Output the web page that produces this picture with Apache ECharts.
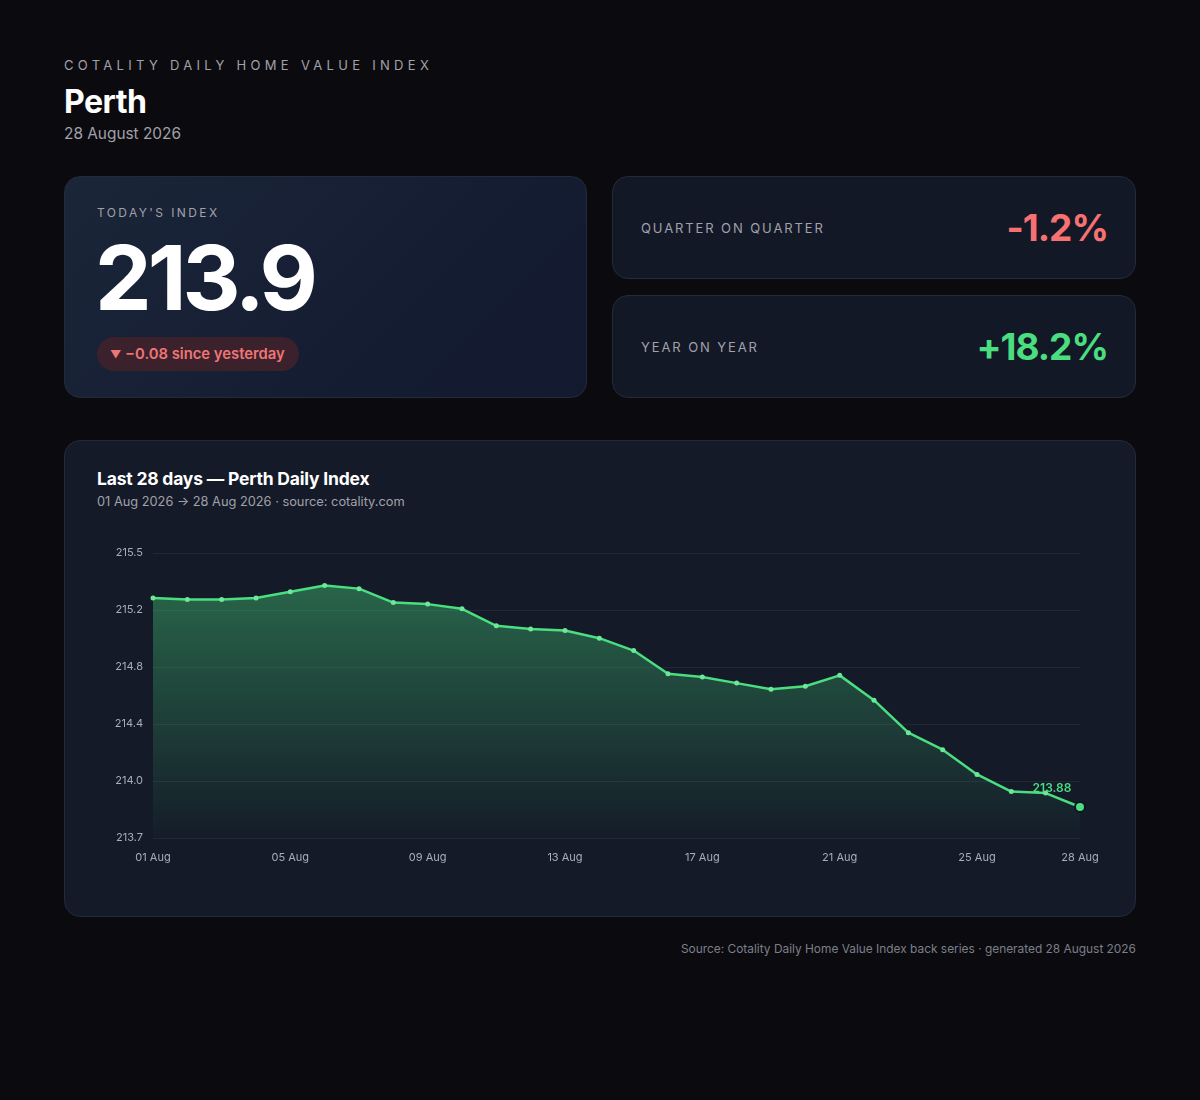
<!DOCTYPE html>
<html>

	<head>
		<meta charset="UTF-8">
		<title>Perth Daily Home Value Index</title>
		<script src="https://cdn.jsdelivr.net/npm/echarts@6.0.0/dist/echarts.min.js"></script>
		<style>
			html, body {
				margin: 0;
				padding: 0;
				width: 1200px;
				height: 1100px;
				background: #0b0b0f;
				font-family: Inter, "Noto Sans", sans-serif;
				color: #fff;
			}
			.page {
				padding: 57px 64px 0 64px;
				width: 1072px;
			}
			.eyebrow {
				font-size: 13px;
				line-height: 16px;
				letter-spacing: 4.3px;
				color: #a1a1aa;
			}
			h1 {
				margin: 10px 0 0 0;
				font-size: 32px;
				line-height: 38px;
				font-weight: 700;
				letter-spacing: -0.5px;
			}
			.date {
				margin-top: 3px;
				font-size: 15.4px;
				line-height: 20px;
				color: #a1a1aa;
			}
			.row {
				margin-top: 32px;
				display: flex;
				justify-content: space-between;
				height: 222px;
			}
			.card {
				box-sizing: border-box;
				border: 1px solid #232a3a;
				border-radius: 16px;
				background: #131826;
			}
			.today {
				width: 523px;
				height: 222px;
				padding: 28px 32px;
				background: linear-gradient(135deg, #1b2639 0%, #151d32 60%, #131a30 100%);
			}
			.label {
				font-size: 12px;
				line-height: 16px;
				letter-spacing: 2.4px;
				color: #a1a1aa;
			}
			.big {
				margin: 12px 0 0 -2px;
				font-size: 90px;
				line-height: 90px;
				font-weight: 700;
				letter-spacing: -4px;
			}
			.pill {
				display: inline-block;
				margin-top: 14px;
				height: 34px;
				line-height: 34px;
				padding: 0 14px 0 13px;
				border-radius: 17px;
				background: #3a212c;
				color: #f07575;
				font-size: 14.8px;
				font-weight: 600;
			}
			.pill .tri {
				font-size: 11px;
				position: relative;
				top: -1px;
			}
			.side {
				width: 524px;
				display: flex;
				flex-direction: column;
				justify-content: space-between;
			}
			.stat {
				height: 103px;
				display: flex;
				align-items: center;
				justify-content: space-between;
				padding: 0 27px 0 28px;
			}
			.stat .label {
				font-size: 13px;
				letter-spacing: 1.9px;
			}
			.stat .value {
				font-size: 37px;
				font-weight: 700;
				letter-spacing: -1px;
			}
			.neg { color: #f87171; }
			.pos { color: #4ade80; }
			.chartcard {
				position: relative;
				margin-top: 42px;
				height: 477px;
				padding: 27px 32px;
				background: #141a28;
			}
			.ctitle {
				font-size: 17.5px;
				line-height: 22px;
				font-weight: 700;
				letter-spacing: -0.2px;
			}
			.csub {
				margin-top: 4px;
				font-size: 12.8px;
				line-height: 16px;
				color: #a1a1aa;
			}
			#chart {
				position: absolute;
				left: -1px;
				top: 80px;
				width: 1071px;
				height: 360px;
			}
			.footer {
				margin-top: 24px;
				text-align: right;
				font-size: 11.9px;
				line-height: 16px;
				color: #7c7f88;
			}
		</style>
	</head>

	<body>
		<div class="page">
			<div class="eyebrow">COTALITY DAILY HOME VALUE INDEX</div>
			<h1>Perth</h1>
			<div class="date">28 August 2026</div>

			<div class="row">
				<div class="card today">
					<div class="label">TODAY'S INDEX</div>
					<div class="big">213.9</div>
					<div class="pill"><span class="tri">▼</span> −0.08 since yesterday</div>
				</div>
				<div class="side">
					<div class="card stat">
						<div class="label">QUARTER ON QUARTER</div>
						<div class="value neg">-1.2%</div>
					</div>
					<div class="card stat">
						<div class="label">YEAR ON YEAR</div>
						<div class="value pos">+18.2%</div>
					</div>
				</div>
			</div>

			<div class="card chartcard">
				<div class="ctitle">Last 28 days — Perth Daily Index</div>
				<div class="csub">01 Aug 2026 → 28 Aug 2026 · source: cotality.com</div>
				<div id="chart"></div>
			</div>

			<div class="footer">Source: Cotality Daily Home Value Index back series · generated 28 August 2026</div>
		</div>

		<script type="text/javascript">
			// 日期
			var days = ['01 Aug', '02 Aug', '03 Aug', '04 Aug', '05 Aug', '06 Aug', '07 Aug',
				'08 Aug', '09 Aug', '10 Aug', '11 Aug', '12 Aug', '13 Aug', '14 Aug',
				'15 Aug', '16 Aug', '17 Aug', '18 Aug', '19 Aug', '20 Aug', '21 Aug',
				'22 Aug', '23 Aug', '24 Aug', '25 Aug', '26 Aug', '27 Aug', '28 Aug'];
			// 指数
			var indexValues = [215.23, 215.22, 215.22, 215.23, 215.27, 215.31, 215.29,
				215.20, 215.19, 215.16, 215.05, 215.03, 215.02, 214.97,
				214.89, 214.74, 214.72, 214.68, 214.64, 214.66, 214.73,
				214.57, 214.36, 214.25, 214.09, 213.98, 213.97, 213.88];
			// y轴范围
			var yMin = 213.68,
				yMax = 215.52,
				yStep = 0.368;

			var green = '#4ade80';
			var last = indexValues.length - 1;

			var seriesData = [];
			for (var i = 0; i < indexValues.length; i++) {
				if (i == last) {
					seriesData.push({
						value: indexValues[i],
						symbolSize: 10,
						itemStyle: { color: green, borderColor: '#0f1420', borderWidth: 2 },
						label: {
							show: true,
							position: 'inside',
							offset: [-28, -19],
							formatter: function(p) { return p.value.toFixed(2); },
							color: green,
							fontSize: 12,
							fontWeight: 600,
							fontFamily: 'Inter'
						}
					});
				} else {
					seriesData.push(indexValues[i]);
				}
			}

			var chart = echarts.init(document.getElementById('chart'));
			chart.setOption({
				animation: false,
				grid: {
					left: 89,
					right: 55,
					top: 32,
					bottom: 43,
					containLabel: false,
					outerBoundsMode: 'none'
				},
				xAxis: {
					type: 'category',
					boundaryGap: false,
					data: days,
					axisLine: { show: false },
					axisTick: { show: false },
					axisLabel: {
						interval: function(idx) { return idx % 4 == 0 || idx == last; },
						color: '#a8aeb9',
						fontSize: 11,
						fontFamily: 'Inter',
						margin: 14
					},
					splitLine: { show: false }
				},
				yAxis: {
					type: 'value',
					min: yMin,
					max: yMax,
					interval: yStep,
					axisLine: { show: false },
					axisTick: { show: false },
					axisLabel: {
						formatter: function(v) { return v.toFixed(1); },
						color: '#a8aeb9',
						fontSize: 11,
						fontFamily: 'Inter',
						margin: 10
					},
					splitLine: {
						lineStyle: { color: 'rgba(255,255,255,0.06)', width: 1 }
					}
				},
				series: [{
					type: 'line',
					data: seriesData,
					symbol: 'circle',
					symbolSize: 5,
					showAllSymbol: true,
					lineStyle: { color: green, width: 2.5 },
					itemStyle: { color: '#6ee79a' },
					areaStyle: {
						color: new echarts.graphic.LinearGradient(0, 0, 0, 1, [
							{ offset: 0, color: 'rgba(74,222,128,0.55)' },
							{ offset: 1, color: 'rgba(74,222,128,0.02)' }
						])
					}
				}]
			});
		</script>
	</body>

</html>
